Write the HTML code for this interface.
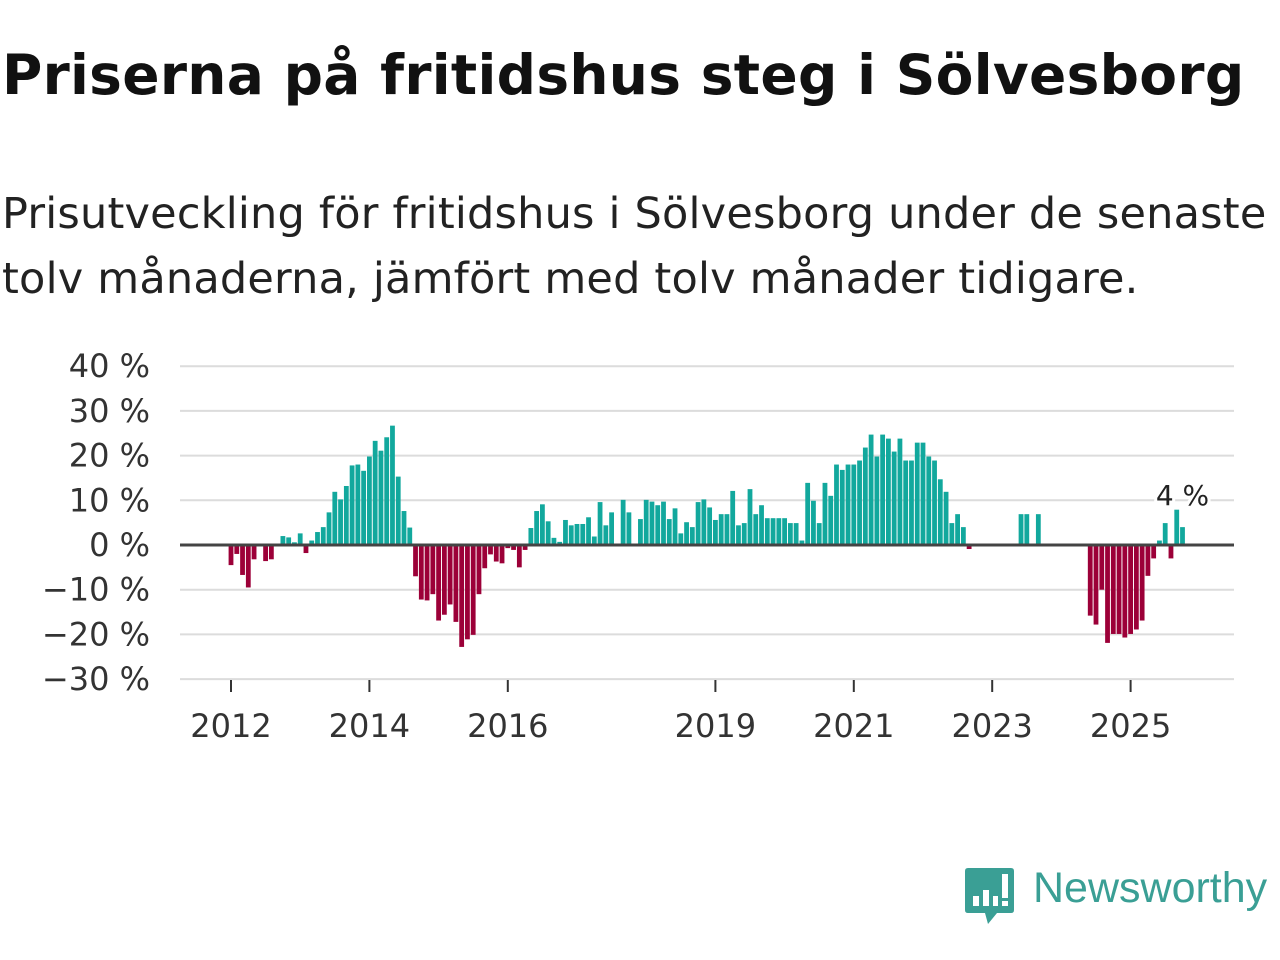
<!DOCTYPE html>
<html><head><meta charset="utf-8">
<style>
body{margin:0;width:1280px;height:960px;background:#fff;font-family:"DejaVu Sans","Liberation Sans",sans-serif;overflow:hidden;position:relative}
#title{position:absolute;left:2px;top:43px;margin:0;font-size:55px;font-weight:bold;color:#111;white-space:nowrap;letter-spacing:0.3px}
#subtitle{position:absolute;left:2px;top:182px;margin:0;font-size:43px;line-height:65px;color:#222;width:1280px;white-space:nowrap;letter-spacing:0.2px}
svg{position:absolute;left:0;top:0}
</style></head><body>
<h1 id="title">Priserna på fritidshus steg i Sölvesborg</h1>
<p id="subtitle">Prisutveckling för fritidshus i Sölvesborg under de senaste<br>tolv månaderna, jämfört med tolv månader tidigare.</p>
<svg id="chart" width="1280" height="960"></svg>
<div style="position:absolute;left:965px;top:866px;width:315px;height:60px">
<svg width="50" height="60" style="position:absolute;left:0;top:0">
<path d="M3 2 H46 Q49 2 49 5 V44 Q49 47 46 47 H32 L23 58 L20 47 H3 Q0 47 0 44 V5 Q0 2 3 2Z" fill="#3a9f95"/>
<rect x="8" y="30" width="6" height="10" fill="#fff"/><rect x="18" y="24" width="6" height="16" fill="#fff"/><rect x="28" y="30" width="5" height="10" fill="#fff"/><rect x="37" y="8" width="6" height="24" fill="#fff"/><rect x="37" y="35" width="6" height="5" fill="#fff"/>
</svg>
<span style="position:absolute;left:68px;top:-2px;font-size:43px;color:#3a9f95;font-family:'Liberation Sans',sans-serif">Newsworthy</span>
</div>
<script>
const startYear = 2012;
const values = [-4.5,-2,-6.7,-9.5,-3.2,null,-3.6,-3.2,null,2,1.7,0.6,
2.6,-1.8,1,2.9,4,7.3,11.9,10.2,13.2,17.8,18,16.6,
19.8,23.3,21.1,24.1,26.7,15.3,7.6,3.9,-7,-12.2,-12.4,-11,
-16.9,-15.6,-13.3,-17.2,-22.8,-21.1,-20.1,-11,-5.2,-2.1,-3.7,-4.1,
-0.7,-1.1,-5,-1.1,3.8,7.6,9.1,5.3,1.6,0.7,5.6,4.4,
4.7,4.7,6.2,1.9,9.6,4.4,7.3,null,10.1,7.3,null,5.8,
10.1,9.7,8.9,9.7,5.8,8.2,2.6,5.1,4,9.6,10.2,8.4,
5.6,6.9,6.9,12.1,4.4,4.9,12.5,6.9,8.9,6,6,6,
6,4.9,4.9,1,13.9,9.9,4.9,13.9,11,18,16.8,18,
18,18.9,21.8,24.7,19.8,24.7,23.8,20.9,23.8,18.9,18.9,22.9,
22.9,19.8,18.9,14.7,11.9,4.9,6.9,4,-0.9,null,null,null,
null,null,null,null,null,6.9,6.9,null,6.9,null,null,null,
null,null,null,null,null,-15.8,-17.8,-10,-21.9,-19.9,-19.9,-20.7,
-19.9,-18.9,-16.9,-6.9,-3,1,4.9,-3,7.9,4];
const yTicks = [40,30,20,10,0,-10,-20,-30];
const yTickLabels = ["40 %","30 %","20 %","10 %","0 %","\u221210 %","\u221220 %","\u221230 %"];
const xTickYears = [2012,2014,2016,2019,2021,2023,2025];
const lastLabel = "4 %";

const NS='http://www.w3.org/2000/svg';
const svg=document.getElementById('chart');
const FONT='DejaVu Sans, Liberation Sans, sans-serif';
const y0px=545, pxPerPct=4.47;
const yScale=v=>y0px-v*pxPerPct;
const monthPx=69.2/12;
const xScale=i=>231+i*monthPx;
function mk(tag,attrs){const e=document.createElementNS(NS,tag);for(const k in attrs)e.setAttribute(k,attrs[k]);svg.appendChild(e);return e;}
yTicks.forEach((t,k)=>{
  if(t!==0){const g=mk('line',{x1:180,x2:1234,y1:yScale(t),y2:yScale(t),stroke:'#dcdcdc','stroke-width':2});
  
  }
  const l=mk('text',{x:150,y:yScale(t)+11,'text-anchor':'end','font-size':32,fill:'#333','font-family':FONT});
  l.textContent=yTickLabels[k];
  
  
});
xTickYears.forEach(yr=>{
  const x=xScale((yr-startYear)*12);
  const t=mk('line',{x1:x,x2:x,y1:680,y2:692,stroke:'#333','stroke-width':2});
  
  
  const l=mk('text',{x:x,y:737,'text-anchor':'middle','font-size':32,fill:'#333','font-family':FONT});
  l.textContent=yr;
  
  
});
values.forEach((v,i)=>{
  if(v===null)return;
  const x=xScale(i)-2.4, y=yScale(Math.max(v,0)), h=Math.abs(yScale(v)-y0px);
  const b=mk('rect',{x:x,y:y,width:4.8,height:Math.max(h,0.8),fill:v>=0?'#12a89d':'#9c0038'});
  
  
});
const z=mk('line',{x1:180,x2:1234,y1:y0px,y2:y0px,stroke:'#444','stroke-width':3});


const li=values.length-1;
const lab=mk('text',{x:xScale(li),y:505,'text-anchor':'middle','font-size':28,fill:'#222',stroke:'#fff','stroke-width':6,'paint-order':'stroke','font-family':FONT});
lab.textContent=lastLabel;


</script>
</body></html>
